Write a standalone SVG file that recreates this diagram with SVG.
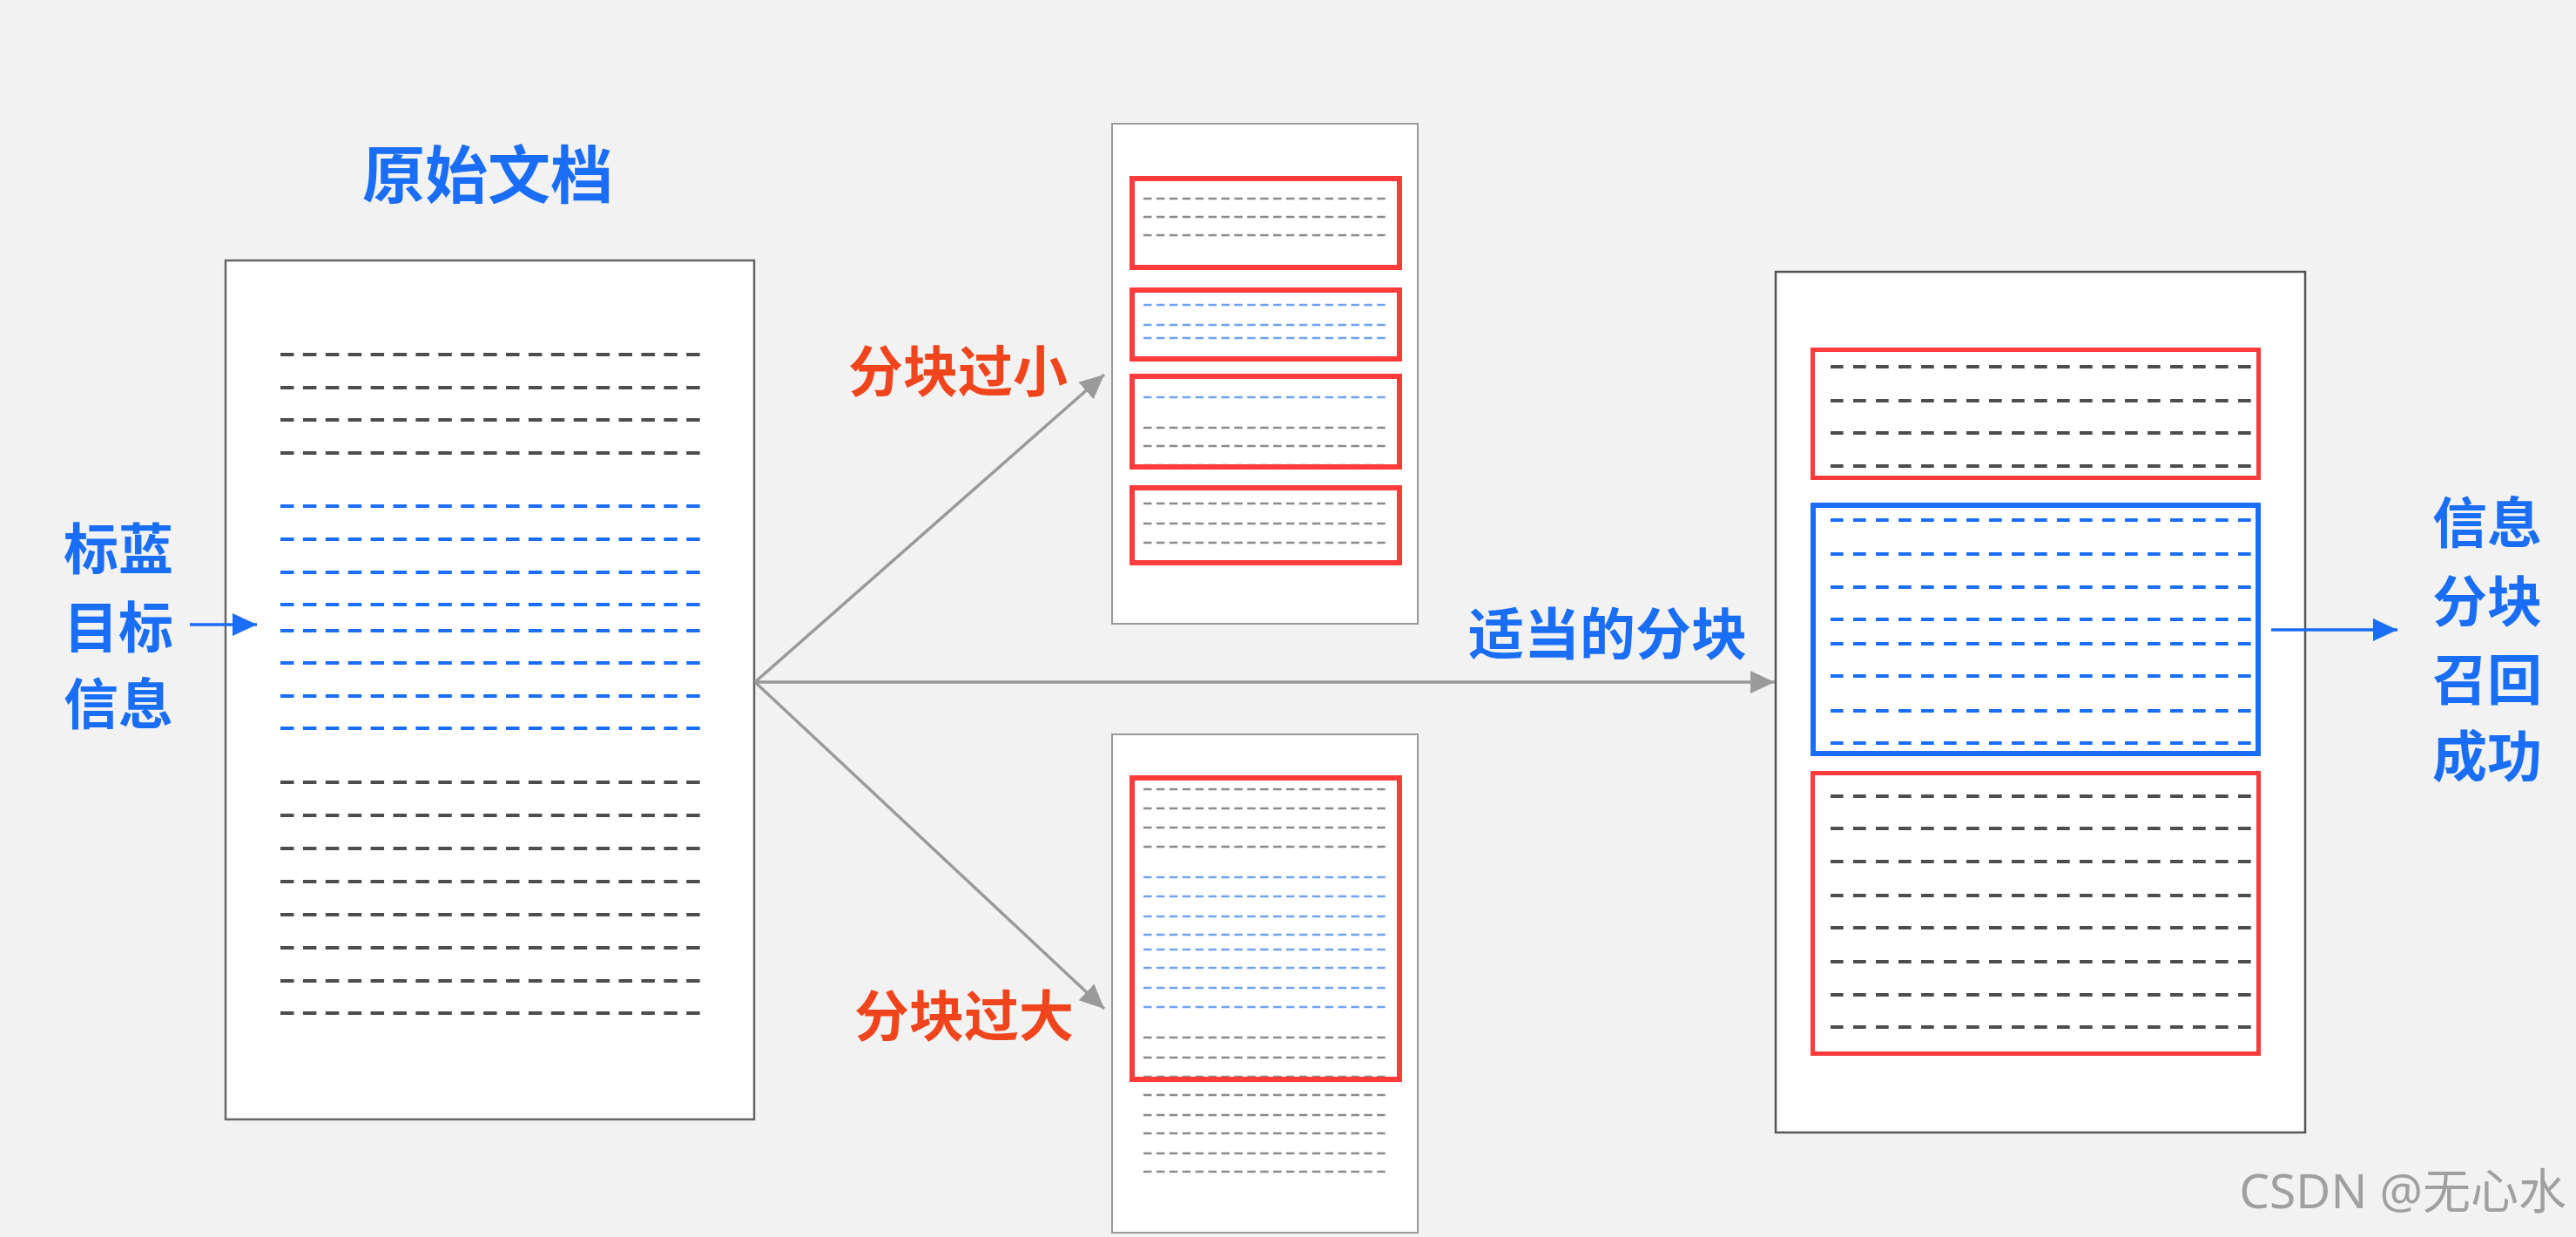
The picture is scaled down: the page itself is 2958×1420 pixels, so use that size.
<svg xmlns="http://www.w3.org/2000/svg" width="2958" height="1420" viewBox="0 0 2958 1420">
<style>
.bg{fill:#f2f2f2}
.doc{fill:#ffffff}
.t{font-family:"Noto Sans CJK SC","Noto Sans",sans-serif;font-weight:700;dominant-baseline:central;text-anchor:middle}
.blue{fill:#1a6ef5}
.red{fill:#f0451c}
.lg{stroke:#4d4d4d;stroke-width:3.8;stroke-dasharray:15.5 10.4}
.lb{stroke:#1a6ef5;stroke-width:3.8;stroke-dasharray:15.5 10.4}
.rg{stroke:#4d4d4d;stroke-width:3.8;stroke-dasharray:14.7 11.3}
.rb{stroke:#1a6ef5;stroke-width:3.8;stroke-dasharray:14.7 11.3}
.sg{stroke:#8a8a8a;stroke-width:2.4;stroke-dasharray:9.5 5.4}
.sb{stroke:#6fa3f2;stroke-width:2.4;stroke-dasharray:9.5 5.4}
.redbox{fill:none;stroke:#ff3b3b;stroke-width:5}
.sredbox{fill:none;stroke:#ff3b3b;stroke-width:6}
.bluebox{fill:none;stroke:#1a6ef5;stroke-width:6}
.garrow{stroke:#9a9a9a;stroke-width:3.5;fill:none}
.barrow{stroke:#1a6ef5;stroke-width:3.5;fill:none}
</style>
<defs>
<marker id="hg" viewBox="0 0 28 26" refX="28" refY="13" markerWidth="28" markerHeight="26" markerUnits="userSpaceOnUse" orient="auto"><path d="M0,0 L28,13 L0,26 Z" fill="#9a9a9a"/></marker>
<marker id="hb" viewBox="0 0 28 26" refX="28" refY="13" markerWidth="28" markerHeight="26" markerUnits="userSpaceOnUse" orient="auto"><path d="M0,0 L28,13 L0,26 Z" fill="#1a6ef5"/></marker>
</defs>
<rect class="bg" x="0" y="0" width="2958" height="1420"/>

<g id="title">
<text class="t blue" x="560" y="195" font-size="72">原始文档</text>
</g>

<g id="label-target">
<text class="t blue" x="136" y="625" font-size="63">标蓝</text>
<text class="t blue" x="136" y="715" font-size="63">目标</text>
<text class="t blue" x="136" y="803" font-size="63">信息</text>
</g>

<g id="doc-original">
<rect class="doc" x="259" y="299" width="607" height="986" stroke="#666" stroke-width="2.5"/>
<g class="lines">
<line class="lg" x1="322" y1="407" x2="804" y2="407"/>
<line class="lg" x1="322" y1="445" x2="804" y2="445"/>
<line class="lg" x1="322" y1="482" x2="804" y2="482"/>
<line class="lg" x1="322" y1="520" x2="804" y2="520"/>
<line class="lb" x1="322" y1="581" x2="804" y2="581"/>
<line class="lb" x1="322" y1="619" x2="804" y2="619"/>
<line class="lb" x1="322" y1="657" x2="804" y2="657"/>
<line class="lb" x1="322" y1="694" x2="804" y2="694"/>
<line class="lb" x1="322" y1="724" x2="804" y2="724"/>
<line class="lb" x1="322" y1="761" x2="804" y2="761"/>
<line class="lb" x1="322" y1="799" x2="804" y2="799"/>
<line class="lb" x1="322" y1="836" x2="804" y2="836"/>
<line class="lg" x1="322" y1="898" x2="804" y2="898"/>
<line class="lg" x1="322" y1="936" x2="804" y2="936"/>
<line class="lg" x1="322" y1="974" x2="804" y2="974"/>
<line class="lg" x1="322" y1="1012" x2="804" y2="1012"/>
<line class="lg" x1="322" y1="1050" x2="804" y2="1050"/>
<line class="lg" x1="322" y1="1088" x2="804" y2="1088"/>
<line class="lg" x1="322" y1="1126" x2="804" y2="1126"/>
<line class="lg" x1="322" y1="1163" x2="804" y2="1163"/>
</g>
</g>

<g id="doc-small-chunks">
<rect class="doc" x="1277" y="142" width="351" height="574" stroke="#999" stroke-width="2"/>
<line class="sg" x1="1313" y1="205" x2="1593" y2="205"/>
<line class="sg" x1="1313" y1="228" x2="1593" y2="228"/>
<line class="sg" x1="1313" y1="249" x2="1593" y2="249"/>
<line class="sg" x1="1313" y1="270" x2="1593" y2="270"/>
<line class="sb" x1="1313" y1="306" x2="1593" y2="306"/>
<line class="sb" x1="1313" y1="350" x2="1593" y2="350"/>
<line class="sb" x1="1313" y1="373" x2="1593" y2="373"/>
<line class="sb" x1="1313" y1="388" x2="1593" y2="388"/>
<line class="sb" x1="1313" y1="411" x2="1593" y2="411"/>
<line class="sb" x1="1313" y1="432" x2="1593" y2="432"/>
<line class="sb" x1="1313" y1="456" x2="1593" y2="456"/>
<line class="sg" x1="1313" y1="491" x2="1593" y2="491"/>
<line class="sg" x1="1313" y1="512" x2="1593" y2="512"/>
<line class="sg" x1="1313" y1="534" x2="1593" y2="534"/>
<line class="sg" x1="1313" y1="578" x2="1593" y2="578"/>
<line class="sg" x1="1313" y1="601" x2="1593" y2="601"/>
<line class="sg" x1="1313" y1="623" x2="1593" y2="623"/>
<line class="sg" x1="1313" y1="646" x2="1593" y2="646"/>
<rect class="sredbox" x="1300" y="205" width="307" height="102"/>
<rect class="sredbox" x="1300" y="333" width="307" height="79"/>
<rect class="sredbox" x="1300" y="432" width="307" height="104"/>
<rect class="sredbox" x="1300" y="560" width="307" height="86"/>
</g>

<g id="doc-large-chunk">
<rect class="doc" x="1277" y="843" width="351" height="572" stroke="#999" stroke-width="2"/>
<line class="sg" x1="1313" y1="906" x2="1593" y2="906"/>
<line class="sg" x1="1313" y1="928" x2="1593" y2="928"/>
<line class="sg" x1="1313" y1="950" x2="1593" y2="950"/>
<line class="sg" x1="1313" y1="972" x2="1593" y2="972"/>
<line class="sb" x1="1313" y1="1007" x2="1593" y2="1007"/>
<line class="sb" x1="1313" y1="1029" x2="1593" y2="1029"/>
<line class="sb" x1="1313" y1="1052" x2="1593" y2="1052"/>
<line class="sb" x1="1313" y1="1073" x2="1593" y2="1073"/>
<line class="sb" x1="1313" y1="1090" x2="1593" y2="1090"/>
<line class="sb" x1="1313" y1="1111" x2="1593" y2="1111"/>
<line class="sb" x1="1313" y1="1134" x2="1593" y2="1134"/>
<line class="sb" x1="1313" y1="1156" x2="1593" y2="1156"/>
<line class="sg" x1="1313" y1="1191" x2="1593" y2="1191"/>
<line class="sg" x1="1313" y1="1214" x2="1593" y2="1214"/>
<line class="sg" x1="1313" y1="1236" x2="1593" y2="1236"/>
<line class="sg" x1="1313" y1="1257" x2="1593" y2="1257"/>
<line class="sg" x1="1313" y1="1280" x2="1593" y2="1280"/>
<line class="sg" x1="1313" y1="1301" x2="1593" y2="1301"/>
<line class="sg" x1="1313" y1="1324" x2="1593" y2="1324"/>
<line class="sg" x1="1313" y1="1345" x2="1593" y2="1345"/>
<rect class="sredbox" x="1300" y="893" width="307" height="346"/>
</g>

<g id="doc-proper-chunks">
<rect class="doc" x="2039" y="312" width="608" height="988" stroke="#555" stroke-width="2.5"/>
<line class="rg" x1="2102" y1="421" x2="2585" y2="421"/>
<line class="rg" x1="2102" y1="460" x2="2585" y2="460"/>
<line class="rg" x1="2102" y1="497" x2="2585" y2="497"/>
<line class="rg" x1="2102" y1="535" x2="2585" y2="535"/>
<line class="rb" x1="2102" y1="597" x2="2585" y2="597"/>
<line class="rb" x1="2102" y1="636" x2="2585" y2="636"/>
<line class="rb" x1="2102" y1="674" x2="2585" y2="674"/>
<line class="rb" x1="2102" y1="711" x2="2585" y2="711"/>
<line class="rb" x1="2102" y1="739" x2="2585" y2="739"/>
<line class="rb" x1="2102" y1="776" x2="2585" y2="776"/>
<line class="rb" x1="2102" y1="816" x2="2585" y2="816"/>
<line class="rb" x1="2102" y1="853" x2="2585" y2="853"/>
<line class="rg" x1="2102" y1="914" x2="2585" y2="914"/>
<line class="rg" x1="2102" y1="951" x2="2585" y2="951"/>
<line class="rg" x1="2102" y1="989" x2="2585" y2="989"/>
<line class="rg" x1="2102" y1="1028" x2="2585" y2="1028"/>
<line class="rg" x1="2102" y1="1065" x2="2585" y2="1065"/>
<line class="rg" x1="2102" y1="1104" x2="2585" y2="1104"/>
<line class="rg" x1="2102" y1="1142" x2="2585" y2="1142"/>
<line class="rg" x1="2102" y1="1179" x2="2585" y2="1179"/>
<rect class="redbox" x="2081.5" y="401.5" width="512" height="147"/>
<rect class="bluebox" x="2082" y="580" width="511" height="285"/>
<rect class="redbox" x="2081.5" y="887.5" width="512" height="322"/>
</g>

<g id="label-small">
<text class="t red" x="1100" y="421" font-size="63">分块过小</text>
</g>
<g id="label-large">
<text class="t red" x="1107" y="1161" font-size="63">分块过大</text>
</g>
<g id="label-proper">
<text class="t blue" x="1846" y="723" font-size="64">适当的分块</text>
</g>
<g id="label-success">
<text class="t blue" x="2856" y="595" font-size="63">信息</text>
<text class="t blue" x="2856" y="685" font-size="63">分块</text>
<text class="t blue" x="2856" y="775" font-size="63">召回</text>
<text class="t blue" x="2856" y="863" font-size="63">成功</text>
</g>

<g id="connectors">
<line class="barrow" x1="218" y1="717" x2="295" y2="717" marker-end="url(#hb)"/>
<line class="garrow" x1="867" y1="783" x2="1268" y2="430" marker-end="url(#hg)"/>
<line class="garrow" x1="867" y1="783" x2="2038" y2="783" marker-end="url(#hg)"/>
<line class="garrow" x1="867" y1="783" x2="1268" y2="1158" marker-end="url(#hg)"/>
<line class="barrow" x1="2608" y1="723" x2="2753" y2="723" marker-end="url(#hb)"/>
</g>

<text x="2947" y="1365" font-family="'Noto Sans','Noto Sans CJK SC',sans-serif" font-size="55" fill="#a0a0a0" text-anchor="end" dominant-baseline="central">CSDN @无心水</text>
</svg>
